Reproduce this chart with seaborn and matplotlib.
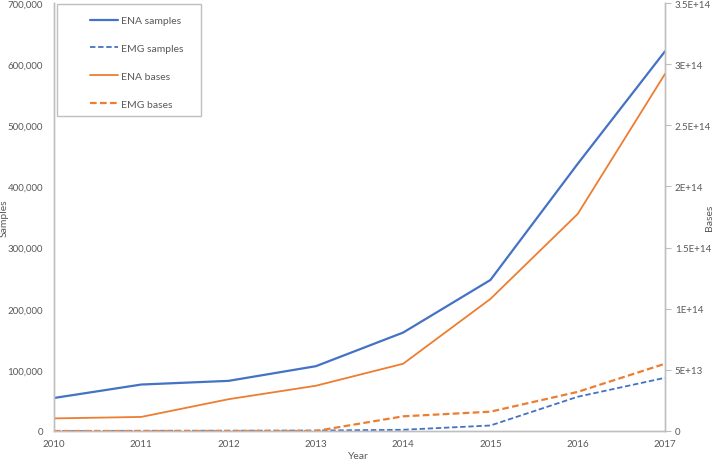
import matplotlib
matplotlib.use("Agg")
import matplotlib.pyplot as plt
import seaborn as sns
import pandas as pd
from matplotlib.ticker import FuncFormatter, FixedLocator
from matplotlib.lines import Line2D
from matplotlib.patches import Rectangle

years = [2010, 2011, 2012, 2013, 2014, 2015, 2016, 2017]
ena_samples = [54000, 76000, 82000, 106000, 161000, 247000, 437000, 621000]
emg_samples = [0, 300, 500, 800, 2000, 9000, 56000, 87000]
ena_bases = [1.03e13, 1.15e13, 2.6e13, 3.7e13, 5.5e13, 1.08e14, 1.775e14, 2.92e14]
emg_bases = [0, 0, 0, 0, 1.2e13, 1.58e13, 3.2e13, 5.5e13]

left_ticks = [0, 100000, 200000, 300000, 400000, 500000, 600000, 700000]
right_ticks = [0, 5e13, 1e14, 1.5e14, 2e14, 2.5e14, 3e14, 3.5e14]
right_labels = ["0", "5E+13", "1E+14", "1.5E+14", "2E+14", "2.5E+14", "3E+14", "3.5E+14"]

BLUE = "#4472C4"
ORANGE = "#ED7D31"
GRAY_TXT = "#595959"
GRAY_AX = "#BFBFBF"
DASH = (0, (3, 1.5))

sns.set_theme(style="white")
plt.rcParams["font.family"] = ["Lato", "DejaVu Sans"]

df_s = pd.DataFrame({"Year": years, "ENA samples": ena_samples, "EMG samples": emg_samples})
df_b = pd.DataFrame({"Year": years, "ENA bases": ena_bases, "EMG bases": emg_bases})

fig = plt.figure(figsize=(7.2, 4.64), dpi=100)
ax = fig.add_axes([54/720, 1 - 432/464, (665-54)/720, (432-4)/464])
ax2 = ax.twinx()

sns.lineplot(data=df_s, x="Year", y="ENA samples", ax=ax, color=BLUE, lw=1.6)
sns.lineplot(data=df_s, x="Year", y="EMG samples", ax=ax, color=BLUE, lw=1.3, linestyle=DASH)
sns.lineplot(data=df_b, x="Year", y="ENA bases", ax=ax2, color=ORANGE, lw=1.3)
sns.lineplot(data=df_b, x="Year", y="EMG bases", ax=ax2, color=ORANGE, lw=1.6, linestyle=DASH)

ax.set_xlim(2010, 2017)
ax.set_ylim(0, 700000)
ax2.set_ylim(0, 3.5e14)
ax.set_xticks(years)
ax.set_xticklabels([str(y) for y in years])
ax.yaxis.set_major_locator(FixedLocator(left_ticks))
ax.yaxis.set_major_formatter(FuncFormatter(lambda v, p: f"{int(v):,}"))
ax2.yaxis.set_major_locator(FixedLocator(right_ticks))
ax2.set_yticklabels(right_labels)

for a in (ax, ax2):
    for s in a.spines.values():
        s.set_color(GRAY_AX)
        s.set_linewidth(1.0)
    a.spines["top"].set_visible(False)
    a.tick_params(colors=GRAY_TXT, labelsize=7)
ax.tick_params(axis="y", length=0, pad=8)
ax.tick_params(axis="x", length=0, pad=6)
ax2.tick_params(axis="y", length=4, width=0.8, color=GRAY_AX, direction="out", pad=3)

ax.set_xlabel("Year", color=GRAY_TXT, fontsize=7.5)
ax.set_ylabel("Samples", color=GRAY_TXT, fontsize=7.5)
ax2.set_ylabel("Bases", color=GRAY_TXT, fontsize=7.5)
ax.xaxis.set_label_coords(0.498, -0.046)
ax.yaxis.set_label_coords(-0.075, 0.5)
ax2.yaxis.set_label_coords(1.065, 0.5)
ax.grid(False)
ax2.grid(False)

# legend frame
fig.patches.append(Rectangle((57/720, 1 - 117/464), (201-57)/720, (117-5)/464,
                             transform=fig.transFigure, facecolor="white",
                             edgecolor=GRAY_AX, lw=1.0, zorder=5))
handles = [
    Line2D([], [], color=BLUE, lw=1.6),
    Line2D([], [], color=BLUE, lw=1.3, linestyle=DASH),
    Line2D([], [], color=ORANGE, lw=1.3),
    Line2D([], [], color=ORANGE, lw=1.6, linestyle=DASH),
]
labels = ["ENA samples", "EMG samples", "ENA bases", "EMG bases"]
leg = fig.legend(handles, labels, loc="upper left",
                 bbox_to_anchor=(90/720, 1 - 17/464), bbox_transform=fig.transFigure,
                 frameon=False, fontsize=7.5, labelspacing=1.78,
                 handlelength=2.7, handletextpad=0.25, borderpad=0.0,
                 borderaxespad=0.0)
leg.set_zorder(6)
for t in leg.get_texts():
    t.set_color(GRAY_TXT)

fig.savefig("out.png", dpi=100)
